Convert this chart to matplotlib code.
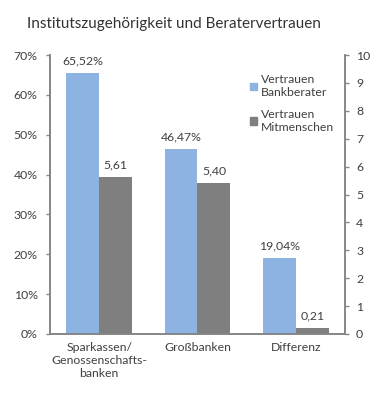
import matplotlib.pyplot as plt
import numpy as np
from matplotlib.patches import Patch

# data
categories = ['Sparkassen/\nGenossenschafts-\nbanken', 'Großbanken', 'Differenz']
berater = [65.52, 46.47, 19.04]       # left axis, percent
mitmenschen = [5.61, 5.40, 0.21]      # right axis, 0-10 scale
left_ticks = [0, 10, 20, 30, 40, 50, 60, 70]
right_ticks = [0, 1, 2, 3, 4, 5, 6, 7, 8, 9, 10]

blue = '#8DB3E2'
grey = '#7F7F7F'
axis_col = '#868686'
text_col = '#404040'

plt.rcParams['font.family'] = ['Lato', 'DejaVu Sans']

fig = plt.figure(figsize=(3.82, 4.0), dpi=100)
ax = fig.add_axes([0.131, 0.165, 0.772, 0.6975])
ax2 = ax.twinx()

x = np.arange(len(categories))
w = 0.335

b1 = ax.bar(x - w / 2, berater, w, color=blue, zorder=2)
b2 = ax2.bar(x + w / 2, mitmenschen, w, color=grey, zorder=2)

ax.set_xlim(-0.5, 2.5)
ax.set_ylim(0, 70)
ax2.set_ylim(0, 10)

ax.set_yticks(left_ticks)
ax.set_yticklabels([f'{t}%' for t in left_ticks])
ax2.set_yticks(right_ticks)
ax2.set_yticklabels([str(t) for t in right_ticks])

ax.set_xticks(x)
ax.set_xticklabels(categories, fontsize=8.8, color=text_col, linespacing=1.2)
ax.tick_params(axis='x', length=0, pad=6)
ax.tick_params(axis='y', labelsize=8.8, colors=axis_col, labelcolor=text_col, length=3, width=1, pad=6)
ax2.tick_params(axis='y', labelsize=8.8, colors=axis_col, labelcolor=text_col, length=3, width=1, pad=5)

for a in (ax, ax2):
    a.spines['top'].set_visible(False)
    for s in ('left', 'right', 'bottom'):
        a.spines[s].set_color(axis_col)
        a.spines[s].set_linewidth(1.2)

for xi, v in zip(x, berater):
    ax.text(xi - w / 2, v + 1.7, f'{v:.2f}%'.replace('.', ','), ha='center', va='bottom',
            fontsize=8.8, color=text_col)
for xi, v in zip(x, mitmenschen):
    ax2.text(xi + w / 2, v + 0.24, f'{v:.2f}'.replace('.', ','), ha='center', va='bottom',
             fontsize=8.8, color=text_col)

handles = [Patch(color=blue), Patch(color=grey)]
ax.legend(handles, ['Vertrauen\nBankberater', 'Vertrauen\nMitmenschen'],
          loc='upper left', bbox_to_anchor=(0.64, 0.97), frameon=False,
          fontsize=8.8, handlelength=0.6, handleheight=0.6, handletextpad=0.3,
          labelspacing=0.9, labelcolor=text_col)

fig.text(0.07, 0.94, 'Institutszugehörigkeit und Beratervertrauen', fontsize=11,
         color='#333333', ha='left', va='center')

fig.savefig('out.png', dpi=100, facecolor='white')
